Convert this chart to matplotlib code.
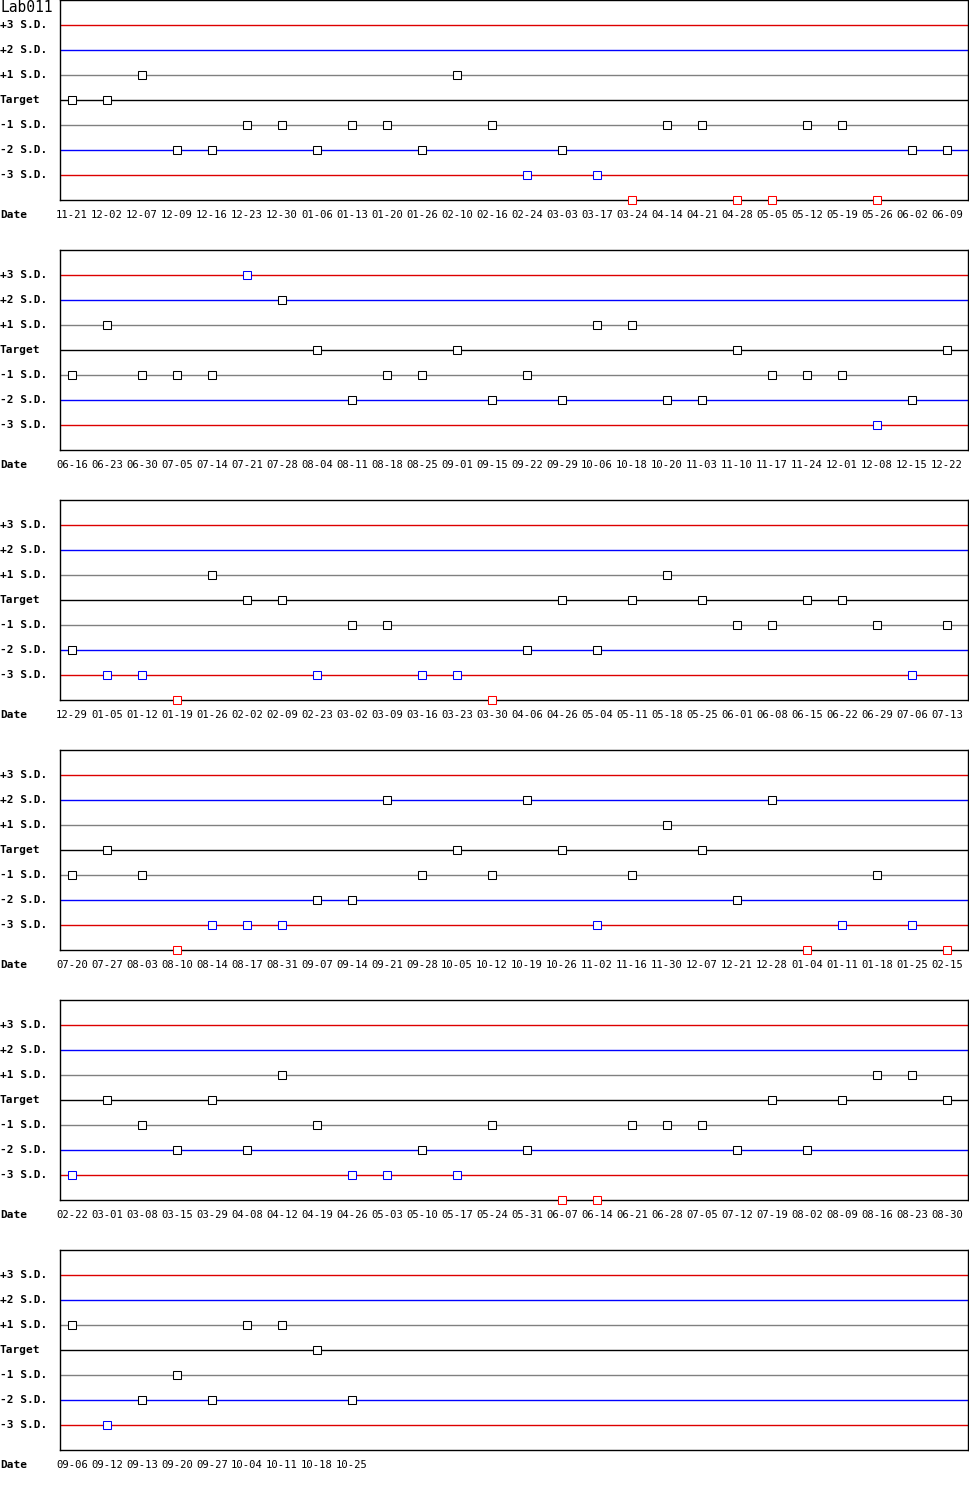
import matplotlib
matplotlib.use('Agg')
import matplotlib.pyplot as pl
from matplotlib.transforms import blended_transform_factory

# levey-jennings style weekly QC chart, values in S.D. units from target
lab_name = 'Lab011'

level_labels = ['+3 S.D.', '+2 S.D.', '+1 S.D.', 'Target',
                '-1 S.D.', '-2 S.D.', '-3 S.D.']
level_values = [3, 2, 1, 0, -1, -2, -3]

dates_1 = ['11-21', '12-02', '12-07', '12-09', '12-16', '12-23', '12-30',
           '01-06', '01-13', '01-20', '01-26', '02-10', '02-16', '02-24',
           '03-03', '03-17', '03-24', '04-14', '04-21', '04-28', '05-05',
           '05-12', '05-19', '05-26', '06-02', '06-09']
sd_1 = [0, 0, 1, -2, -2, -1, -1, -2, -1, -1, -2, 1, -1, -3,
        -2, -3, -4, -1, -1, -4, -4, -1, -1, -4, -2, -2]

dates_2 = ['06-16', '06-23', '06-30', '07-05', '07-14', '07-21', '07-28',
           '08-04', '08-11', '08-18', '08-25', '09-01', '09-15', '09-22',
           '09-29', '10-06', '10-18', '10-20', '11-03', '11-10', '11-17',
           '11-24', '12-01', '12-08', '12-15', '12-22']
sd_2 = [-1, 1, -1, -1, -1, 3, 2, 0, -2, -1, -1, 0, -2, -1,
        -2, 1, 1, -2, -2, 0, -1, -1, -1, -3, -2, 0]

dates_3 = ['12-29', '01-05', '01-12', '01-19', '01-26', '02-02', '02-09',
           '02-23', '03-02', '03-09', '03-16', '03-23', '03-30', '04-06',
           '04-26', '05-04', '05-11', '05-18', '05-25', '06-01', '06-08',
           '06-15', '06-22', '06-29', '07-06', '07-13']
sd_3 = [-2, -3, -3, -4, 1, 0, 0, -3, -1, -1, -3, -3, -4, -2,
        0, -2, 0, 1, 0, -1, -1, 0, 0, -1, -3, -1]

dates_4 = ['07-20', '07-27', '08-03', '08-10', '08-14', '08-17', '08-31',
           '09-07', '09-14', '09-21', '09-28', '10-05', '10-12', '10-19',
           '10-26', '11-02', '11-16', '11-30', '12-07', '12-21', '12-28',
           '01-04', '01-11', '01-18', '01-25', '02-15']
sd_4 = [-1, 0, -1, -4, -3, -3, -3, -2, -2, 2, -1, 0, -1, 2,
        0, -3, -1, 1, 0, -2, 2, -4, -3, -1, -3, -4]

dates_5 = ['02-22', '03-01', '03-08', '03-15', '03-29', '04-08', '04-12',
           '04-19', '04-26', '05-03', '05-10', '05-17', '05-24', '05-31',
           '06-07', '06-14', '06-21', '06-28', '07-05', '07-12', '07-19',
           '08-02', '08-09', '08-16', '08-23', '08-30']
sd_5 = [-3, 0, -1, -2, 0, -2, 1, -1, -3, -3, -2, -3, -1, -2,
        -4, -4, -1, -1, -1, -2, 0, -2, 0, 1, 1, 0]

dates_6 = ['09-06', '09-12', '09-13', '09-20', '09-27', '10-04', '10-11',
           '10-18', '10-25']
sd_6 = [1, -3, -2, -1, -2, 1, 1, 0, -2]

panels = [(dates_1, sd_1), (dates_2, sd_2), (dates_3, sd_3),
          (dates_4, sd_4), (dates_5, sd_5), (dates_6, sd_6)]

FONT = 'DejaVu Sans Mono'
W, H = 970, 1500
LEFT, RIGHT = 60, 968
PANEL_STEP, PANEL_H = 250, 200
FIRST_X, STEP_X = 72, 35


def level_color(v):
    a = abs(v)
    if a >= 3:
        return '#dd0000'
    if a == 2:
        return '#0000ff'
    if a == 1:
        return '#808080'
    return 'black'


def point_color(v):
    a = abs(v)
    if a >= 4:
        return '#ff0000'
    if a == 3:
        return '#0000ff'
    return 'black'


def draw_panel(fig, row, dates, values):
    top = row * PANEL_STEP
    ax = fig.add_axes([LEFT / W, 1 - (top + PANEL_H) / H,
                       (RIGHT - LEFT) / W, PANEL_H / H])
    # x in index units, mapped so index 0 lands 12 px right of the frame
    ax.set_xlim(-(FIRST_X - LEFT) / STEP_X, (RIGHT - FIRST_X) / STEP_X)
    ax.set_ylim(-4, 4)
    ax.set_yticks([])
    for s in ax.spines.values():
        s.set_linewidth(1.0)
        s.set_color('black')

    for lv in level_values:
        ax.axhline(lv, color=level_color(lv), lw=1.0, zorder=1)

    xs = list(range(len(values)))
    for x, v in zip(xs, values):
        ax.plot(x, v, marker='s', ms=6.0, mfc='white', mew=0.75,
                mec=point_color(v), ls='none', clip_on=False, zorder=3)

    ax.set_xticks(xs)
    ax.set_xticklabels(dates, fontsize=7.6, family=FONT)
    ax.tick_params(axis='x', length=0, pad=7)

    # level labels at far left of the figure, aligned with the data levels
    trans = blended_transform_factory(fig.transFigure, ax.transData)
    for lab, lv in zip(level_labels, level_values):
        ax.text(0.0, lv, lab, transform=trans, ha='left', va='center',
                fontsize=8, family=FONT, fontweight='bold')
    fig.text(0.0, 1 - (top + 215) / H, 'Date', ha='left', va='center',
             fontsize=8, family=FONT, fontweight='bold')
    return ax


def main():
    fig = pl.figure(figsize=(W / 100, H / 100), dpi=100)
    for row, (dates, values) in enumerate(panels):
        draw_panel(fig, row, dates, values)
    fig.text(0.0, 1 - 8 / H, lab_name, ha='left', va='center',
             fontsize=10.5, family=FONT)
    fig.savefig('out.png', dpi=100)


if __name__ == '__main__':
    main()
